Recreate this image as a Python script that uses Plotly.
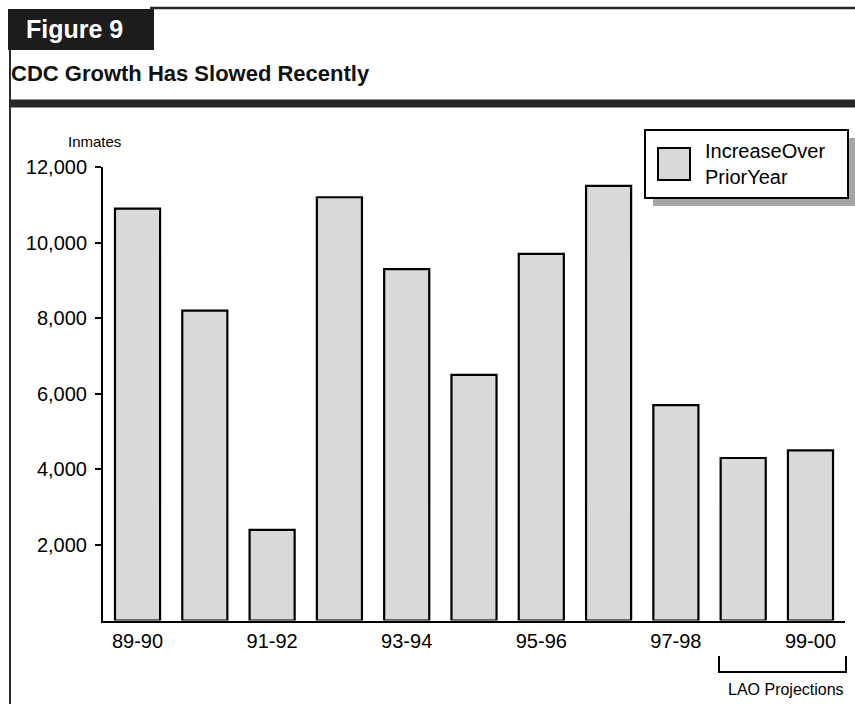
import plotly.graph_objects as go

# Fiscal years and year-over-year inmate population increase
years = ["89-90", "90-91", "91-92", "92-93", "93-94", "94-95",
         "95-96", "96-97", "97-98", "98-99", "99-00"]
increase = [10900, 8200, 2400, 11200, 9300, 6500, 9700, 11500, 5700, 4300, 4500]

y_ticks = [2000, 4000, 6000, 8000, 10000, 12000]
y_tick_text = ["2,000", "4,000", "6,000", "8,000", "10,000", "12,000"]
x_tick_years = ["89-90", "91-92", "93-94", "95-96", "97-98", "99-00"]

W, H = 855, 704
FONT = "Liberation Sans, Arial, sans-serif"


def px(x):
    return x / W


def py(y):
    return 1 - y / H


fig = go.Figure()
fig.add_trace(go.Bar(
    x=years, y=increase, width=0.67,
    marker=dict(color="#d9d9d9", line=dict(color="#000000", width=2.2)),
    name="IncreaseOver PriorYear", showlegend=False,
))

shapes = []
# Outer frame: top rule and left rule
shapes.append(dict(type="line", xref="paper", yref="paper",
                   x0=px(150), x1=px(858), y0=py(8), y1=py(8),
                   line=dict(color="#2a2a2a", width=2.5)))
shapes.append(dict(type="line", xref="paper", yref="paper",
                   x0=px(10), x1=px(10), y0=py(9), y1=py(706),
                   line=dict(color="#2a2a2a", width=2)))
# Figure number tab
shapes.append(dict(type="rect", xref="paper", yref="paper",
                   x0=px(8), x1=px(154), y0=py(9), y1=py(50),
                   fillcolor="#1c1c1c", line=dict(width=0)))
# Heavy rule under the title
shapes.append(dict(type="rect", xref="paper", yref="paper",
                   x0=px(9), x1=px(858), y0=py(99.5), y1=py(107.5),
                   fillcolor="#262626", line=dict(width=0)))
# Legend box with drop shadow
shapes.append(dict(type="rect", xref="paper", yref="paper",
                   x0=px(653), x1=px(856), y0=py(138), y1=py(206),
                   fillcolor="#a6a6a6", line=dict(width=0)))
shapes.append(dict(type="rect", xref="paper", yref="paper",
                   x0=px(645), x1=px(848), y0=py(130), y1=py(198),
                   fillcolor="#ffffff", line=dict(color="#000000", width=2)))
shapes.append(dict(type="rect", xref="paper", yref="paper",
                   x0=px(658), x1=px(690), y0=py(148), y1=py(180),
                   fillcolor="#d9d9d9", line=dict(color="#000000", width=2)))
# Bracket spanning the projected years
shapes.append(dict(type="path", xref="paper", yref="paper",
                   path=f"M {px(719)} {py(656)} L {px(719)} {py(672)} "
                        f"L {px(846)} {py(672)} L {px(846)} {py(656)}",
                   line=dict(color="#000000", width=2)))

annotations = [
    dict(text="<b>Figure 9</b>", xref="paper", yref="paper",
         x=px(24), y=py(29), xanchor="left", yanchor="middle", showarrow=False,
         font=dict(family=FONT, size=25, color="#ffffff")),
    dict(text="<b>CDC Growth Has Slowed Recently</b>", xref="paper", yref="paper",
         x=px(9), y=py(73), xanchor="left", yanchor="middle", showarrow=False,
         font=dict(family=FONT, size=22, color="#111111")),
    dict(text="Inmates", xref="paper", yref="paper",
         x=px(94), y=py(141), xanchor="center", yanchor="middle", showarrow=False,
         font=dict(family=FONT, size=15, color="#000000")),
    dict(text="IncreaseOver<br>PriorYear", xref="paper", yref="paper",
         x=px(703), y=py(164), xanchor="left", yanchor="middle", align="left",
         showarrow=False,
         font=dict(family=FONT, size=20, color="#000000")),
    dict(text="LAO Projections", xref="paper", yref="paper",
         x=px(786), y=py(689), xanchor="center", yanchor="middle", showarrow=False,
         font=dict(family=FONT, size=16, color="#000000")),
]

fig.update_layout(
    width=W, height=H,
    margin=dict(l=0, r=0, t=0, b=0, pad=0, autoexpand=False),
    paper_bgcolor="#ffffff", plot_bgcolor="#ffffff",
    bargap=0.33,
    shapes=shapes, annotations=annotations,
    font=dict(family=FONT, color="#000000"),
    xaxis=dict(
        domain=[px(103), px(845)],
        type="category", range=[-0.513, 10.513],
        showline=True, linecolor="#000000", linewidth=2,
        showgrid=False, zeroline=False, ticks="",
        tickvals=x_tick_years, ticktext=x_tick_years,
        tickfont=dict(family=FONT, size=20, color="#000000"),
        ticklabelstandoff=1,
        automargin=False,
        fixedrange=True,
    ),
    yaxis=dict(
        domain=[py(620.5), py(167)],
        range=[0, 12000],
        showline=True, linecolor="#000000", linewidth=2,
        showgrid=False, zeroline=False,
        ticks="outside", ticklen=6, tickwidth=2, tickcolor="#000000",
        tickvals=y_ticks, ticktext=y_tick_text,
        tickfont=dict(family=FONT, size=20, color="#000000"),
        ticklabelstandoff=4,
        automargin=False,
        fixedrange=True,
    ),
)

fig.write_html("out.html")
